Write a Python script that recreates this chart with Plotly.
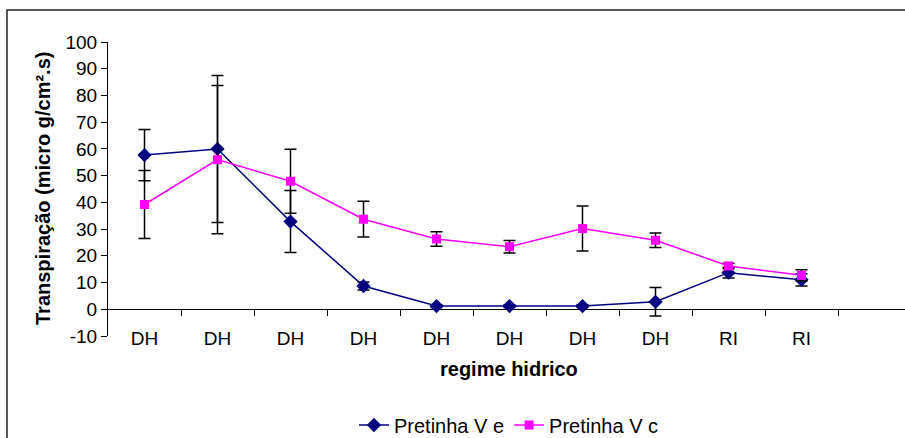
import plotly.graph_objects as go

# categories along x
categories = ["DH", "DH", "DH", "DH", "DH", "DH", "DH", "DH", "RI", "RI"]

# Pretinha V e
ve_values = [57.7, 60.0, 32.8, 8.7, 1.2, 1.2, 1.2, 2.8, 13.7, 11.0]
ve_errors = [9.6, 27.5, 11.6, 1.5, 0.5, 0.5, 0.5, 5.3, 2.0, 2.3]

# Pretinha V c
vc_values = [39.2, 56.0, 47.9, 33.7, 26.3, 23.4, 30.2, 25.8, 16.2, 12.7]
vc_errors = [12.7, 27.7, 12.0, 6.7, 2.7, 2.3, 8.4, 2.7, 1.0, 2.1]

y_ticks = list(range(-10, 101, 10))
y_ticktext = [str(v) for v in y_ticks]  # plain hyphen for -10, like the original

W, H = 905, 438
FONT = "Liberation Sans, Arial, sans-serif"

# pixel layout
plot_left, plot_top, plot_bottom = 108, 42, 336
paper_bottom = 378
paper_h = paper_bottom - plot_top
dom0 = (paper_bottom - plot_bottom) / paper_h
ymin, ymax = -10, 100
zero_pos = dom0 + (0 - ymin) / (ymax - ymin) * (1 - dom0)
label_pos = (paper_bottom - 325) / paper_h


def px_x(px):
    return (px - plot_left) / (W - plot_left)


def px_y(py):
    return (paper_bottom - py) / paper_h


xs = list(range(len(categories)))
xrange_ = [-0.5, -0.5 + (W - plot_left) / 73.0]

fig = go.Figure()
fig.add_trace(go.Scatter(
    x=xs, y=ve_values, mode="lines+markers", name="Pretinha V e",
    line=dict(color="#000080", width=1.5),
    marker=dict(symbol="diamond", size=11, color="#000080"),
    error_y=dict(type="data", array=ve_errors, color="black", thickness=1.5, width=6),
))
fig.add_trace(go.Scatter(
    x=xs, y=vc_values, mode="lines+markers", name="Pretinha V c",
    line=dict(color="#FF00FF", width=1.5),
    marker=dict(symbol="square", size=9, color="#FF00FF"),
    error_y=dict(type="data", array=vc_errors, color="black", thickness=1.5, width=6),
))
# invisible trace to carry the tick marks on the zero line
fig.add_trace(go.Scatter(x=[xs[0]], y=[0], xaxis="x2", mode="markers",
                         marker=dict(opacity=0), showlegend=False, hoverinfo="skip"))

fig.update_layout(
    width=W, height=H,
    margin=dict(l=plot_left, r=0, t=plot_top, b=H - paper_bottom, autoexpand=False),
    paper_bgcolor="white", plot_bgcolor="white",
    font=dict(family=FONT, size=19, color="black"),
    showlegend=True,
    legend=dict(orientation="h", x=px_x(509), y=px_y(425), xanchor="center",
                yanchor="middle", font=dict(size=20), bgcolor="rgba(0,0,0,0)"),
    xaxis=dict(
        range=xrange_, tickmode="array", tickvals=xs, ticktext=categories,
        showline=False, showgrid=False, zeroline=False, ticks="",
        anchor="free", position=label_pos, domain=[0, 1],
        tickfont=dict(size=19),
    ),
    xaxis2=dict(
        range=xrange_, overlaying="x", anchor="free", position=zero_pos,
        tickmode="array", tickvals=[i + 0.5 for i in xs],
        ticks="outside", ticklen=6, tickwidth=1, tickcolor="black",
        showticklabels=False, showline=False, showgrid=False, zeroline=False,
    ),
    yaxis=dict(
        range=[ymin, ymax], domain=[dom0, 1], tickmode="array",
        tickvals=y_ticks, ticktext=y_ticktext,
        showline=True, linecolor="black", linewidth=1,
        ticks="outside", ticklen=6, tickcolor="black",
        showgrid=False, zeroline=True, zerolinecolor="black", zerolinewidth=1,
        tickfont=dict(size=19),
    ),
    annotations=[
        dict(text="<b>Transpiração (micro g/cm².s)</b>", xref="paper", yref="paper",
             x=px_x(43), y=px_y(189), textangle=-90, showarrow=False,
             xanchor="center", yanchor="middle", font=dict(size=20)),
        dict(text="<b>regime hidrico</b>", xref="paper", yref="paper",
             x=px_x(509), y=px_y(369), showarrow=False,
             xanchor="center", yanchor="middle", font=dict(size=20)),
    ],
    shapes=[
        dict(type="rect", xref="paper", yref="paper",
             x0=px_x(7), x1=px_x(W + 20), y0=px_y(H + 20), y1=px_y(10),
             line=dict(color="#222222", width=1.5), fillcolor="rgba(0,0,0,0)",
             layer="below"),
    ],
)

# drop the page's default body margin so the chart sits at the window's corner
fig.write_html("out.html", config={"displayModeBar": False},
               post_script="document.body.style.margin='0';")
